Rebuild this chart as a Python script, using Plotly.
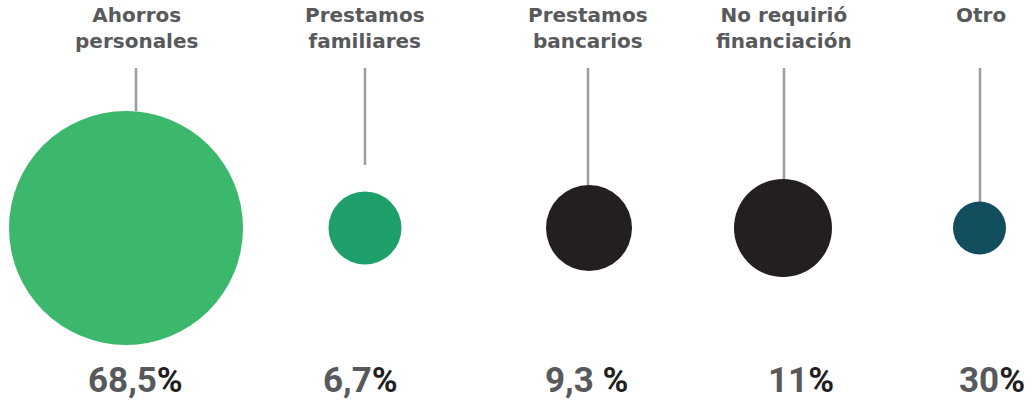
import plotly.graph_objects as go

# ---- data ----
categories = ["Ahorros personales", "Prestamos familiares", "Prestamos bancarios",
              "No requirió financiación", "Otro"]
label_lines = ["Ahorros<br>personales", "Prestamos<br>familiares", "Prestamos<br>bancarios",
               "No requirió<br>financiación", "Otro"]
values = [68.5, 6.7, 9.3, 11, 30]
value_labels = ["68,5", "6,7", "9,3 ", "11", "30"]

# ---- styles ----
W, H = 1033, 404
colors = ["#3BB86B", "#1FA06A", "#231F20", "#231F20", "#124E5D"]
diameters = [234, 73, 86, 98, 53]
col_center_px = [126, 365, 589, 783, 979.5]
label_shift = [10, 0, -1, 1, 1]
line_shift = [10, 0, -1, 1, 0.5]
pct_shift = [9, -5, -3, 18, 12]
line_top_px = 68
line_bottom_px = [111, 165, 185, 184, 202]
circle_center_px = 228
label_font = dict(family="DejaVu Sans, Arial, sans-serif", size=20, color="#58595B")
pct_font = dict(family="Roboto, Arial, sans-serif", size=35, color="#231F20")

fig = go.Figure()
layout_axes = {}
annotations = []
shapes = []
half = 45
for i, cat in enumerate(categories):
    n = "" if i == 0 else str(i + 1)
    c = col_center_px[i]
    layout_axes[f"xaxis{n}"] = dict(domain=[(c - half) / W, (c + half) / W], type="category",
                                   range=[-0.5, 0.5], visible=False, fixedrange=True,
                                   anchor="y")
    fig.add_trace(go.Scatter(
        x=[cat], y=[0], xaxis=f"x{n}", yaxis="y", mode="markers",
        marker=dict(size=diameters[i], color=colors[i], line=dict(width=0)),
        cliponaxis=False, hovertemplate=f"{cat}: {values[i]}%<extra></extra>",
        showlegend=False))
    annotations.append(dict(
        xref=f"x{n} domain", yref="paper", x=0.5, y=1 - 1 / H, xshift=label_shift[i],
        text=f"<b>{label_lines[i]}</b>", showarrow=False, font=label_font,
        xanchor="center", yanchor="top", align="center"))
    annotations.append(dict(
        xref=f"x{n} domain", yref="paper", x=0.5, y=1 - 380 / H, xshift=pct_shift[i],
        text=f"<b><span style='color:#58595B'>{value_labels[i]}</span>%</b>",
        showarrow=False, font=pct_font, xanchor="center", yanchor="middle"))
    shapes.append(dict(
        type="line", xref=f"x{n}", yref="paper", xsizemode="pixel", xanchor=0,
        x0=line_shift[i], x1=line_shift[i],
        y0=1 - line_top_px / H, y1=1 - line_bottom_px[i] / H,
        line=dict(color="#9D9DA1", width=2.5), layer="below"))

fig.update_layout(
    width=W, height=H, margin=dict(l=0, r=0, t=0, b=0),
    paper_bgcolor="white", plot_bgcolor="rgba(0,0,0,0)",
    yaxis=dict(domain=[0, 1], range=[-(H - circle_center_px), circle_center_px],
               visible=False, fixedrange=True),
    annotations=annotations, shapes=shapes, showlegend=False,
    **layout_axes)

fig.write_html("out.html", config={"displayModeBar": False},
               post_script="document.body.style.margin='0';document.body.style.overflow='hidden';")
